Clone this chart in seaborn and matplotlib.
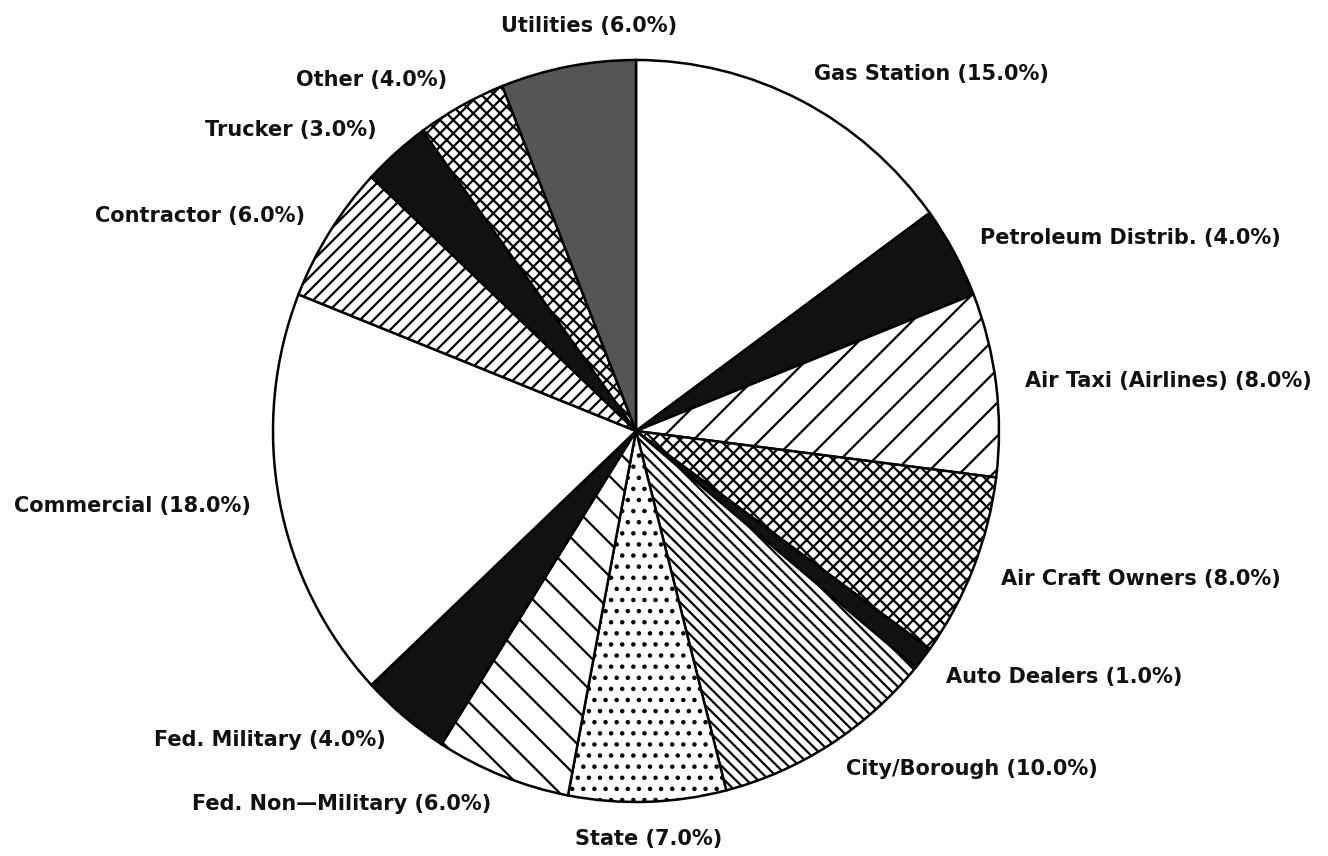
import numpy as np
import matplotlib
matplotlib.use("Agg")
import matplotlib.pyplot as plt
import seaborn as sns

# ---------------- data ----------------
categories = ["Gas Station", "Petroleum Distrib.", "Air Taxi (Airlines)", "Air Craft Owners",
              "Auto Dealers", "City/Borough", "State", "Fed. Non\u2014Military",
              "Fed. Military", "Commercial", "Contractor", "Trucker", "Other", "Utilities"]
shares = [15.0, 4.0, 8.0, 8.0, 1.0, 10.0, 7.0, 6.0, 4.0, 18.0, 6.0, 3.0, 4.0, 6.0]

# ---------------- styles ----------------
faces = ["white", "#111111", "white", "white", "#111111", "white", "white", "white",
         "#111111", "white", "white", "#111111", "white", "#555555"]
hatches = [None, None, "//", "xxxxx", None, "\\" * 6, "...", "\\\\", None, None,
           "/////", None, "xxxxx", None]

sns.set_theme(style="white")
plt.rcParams["font.family"] = ["DejaVu Sans"]
plt.rcParams["hatch.linewidth"] = 0.8
plt.rcParams["hatch.color"] = "black"

labels = [f"{c} ({v:.1f}%)" for c, v in zip(categories, shares)]

fig = plt.figure(figsize=(6.64, 4.28), dpi=200)
ax = fig.add_axes([273 / 1328, 54 / 856, 726 / 1328, 742 / 856])

wedges, texts = ax.pie(shares, labels=labels, startangle=90, counterclock=False,
                       labeldistance=1.08,
                       wedgeprops=dict(edgecolor="black", linewidth=0.9),
                       textprops=dict(fontsize=7.5, fontweight="bold", color="#111111"))

for w, fc, h in zip(wedges, faces, hatches):
    w.set_facecolor(fc)
    if h:
        w.set_hatch(h)
    w.set_clip_on(False)

# labels near the vertical get centred
centred = {"State": (1.10, 0.0), "Utilities": (1.10, -4.0)}
for w, t, c in zip(wedges, texts, categories):
    if c in centred:
        d, shift = centred[c]
        th = np.deg2rad((w.theta1 + w.theta2) / 2 + shift)
        t.set_position((d * np.cos(th), d * np.sin(th)))
        t.set_ha("center")

ax.set_aspect("auto")
ax.set_xlim(-1, 1)
ax.set_ylim(-1, 1)
ax.axis("off")

fig.savefig("out.png", dpi=200, facecolor="white")
